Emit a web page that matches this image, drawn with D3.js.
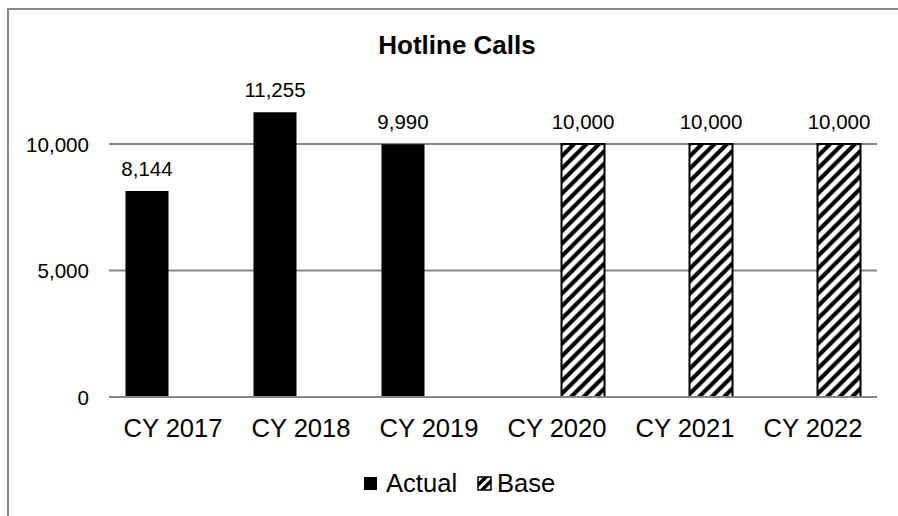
<!DOCTYPE html>
<html>
<head>
<meta charset="utf-8">
<script src="https://cdn.jsdelivr.net/npm/d3@7"></script>
<style>
  html, body { margin: 0; padding: 0; background: #fff; }
  svg { display: block; font-family: "Liberation Sans", Arial, sans-serif; }
</style>
</head>
<body>
<svg id="chart" width="898" height="516"></svg>
<script>
const title = "Hotline Calls";
const categories = ["CY 2017", "CY 2018", "CY 2019", "CY 2020", "CY 2021", "CY 2022"];
const seriesNames = ["Actual", "Base"];
const actualValues = [8144, 11255, 9990, null, null, null];
const baseValues = [null, null, null, 10000, 10000, 10000];
const yTicks = [0, 5000, 10000];
const yMax = 12000;

const svg = d3.select("#chart");
const plot = { left: 109, right: 877, top: 93.4, bottom: 397 };

svg.append("rect")
  .attr("x", 8).attr("y", 9)
  .attr("width", 1000).attr("height", 1000)
  .attr("fill", "#fff")
  .attr("stroke", "#898989").attr("stroke-width", 2);

const defs = svg.append("defs");
const pat = defs.append("pattern")
  .attr("id", "hatch")
  .attr("patternUnits", "userSpaceOnUse")
  .attr("width", 12.5).attr("height", 12.5);
pat.append("rect").attr("width", 12.5).attr("height", 12.5).attr("fill", "#fff");
pat.append("path")
  .attr("d", "M-3,3 L3,-3 M0,12.5 L12.5,0 M9.5,15.5 L15.5,9.5")
  .attr("stroke", "#000").attr("stroke-width", 4.2);

const patS = defs.append("pattern")
  .attr("id", "hatchSmall")
  .attr("patternUnits", "userSpaceOnUse")
  .attr("width", 9).attr("height", 9);
patS.append("rect").attr("width", 9).attr("height", 9).attr("fill", "#fff");
patS.append("path")
  .attr("d", "M-2,2 L2,-2 M0,9 L9,0 M7,11 L11,7")
  .attr("stroke", "#000").attr("stroke-width", 3.4);

const x0 = d3.scaleBand().domain(categories).range([plot.left, plot.right]).padding(0);
const x1 = d3.scaleBand().domain(seriesNames).range([0, x0.bandwidth()])
  .paddingInner(0.173).paddingOuter(0.317);
const y = d3.scaleLinear().domain([0, yMax]).range([plot.bottom, plot.top]);

svg.append("g").selectAll("line").data(yTicks).join("line")
  .attr("x1", plot.left).attr("x2", plot.right)
  .attr("y1", d => y(d)).attr("y2", d => y(d))
  .attr("stroke", "#868686").attr("stroke-width", 2);

const yAxis = svg.append("g")
  .attr("transform", `translate(${plot.left - 20},0)`)
  .call(d3.axisLeft(y).tickValues(yTicks).tickFormat(d3.format(",")).tickSize(0).tickPadding(0));
yAxis.select(".domain").remove();
yAxis.selectAll("text")
  .attr("font-size", 20.6)
  .attr("font-family", "Liberation Sans, Arial, sans-serif")
  .attr("fill", "#000")
  .attr("dy", "0.36em");

const xAxis = svg.append("g")
  .attr("transform", `translate(0,${plot.bottom})`)
  .call(d3.axisBottom(x0).tickSize(0).tickPadding(0));
xAxis.select(".domain").remove();
xAxis.selectAll("text")
  .attr("font-size", 25.6)
  .attr("font-family", "Liberation Sans, Arial, sans-serif")
  .attr("fill", "#000")
  .attr("dy", null)
  .attr("y", 40);

const rows = categories.map((c, i) => ({ cat: c, Actual: actualValues[i], Base: baseValues[i] }));

const groups = svg.append("g").selectAll("g").data(rows).join("g")
  .attr("transform", d => `translate(${x0(d.cat)},0)`);

groups.selectAll("rect")
  .data(d => seriesNames.filter(s => d[s] != null).map(s => ({ key: s, value: d[s] })))
  .join("rect")
  .attr("x", d => x1(d.key))
  .attr("width", x1.bandwidth())
  .attr("y", d => y(d.value))
  .attr("height", d => y(0) - y(d.value))
  .attr("fill", d => d.key === "Actual" ? "#000" : "url(#hatch)")
  .attr("stroke", "#000")
  .attr("stroke-width", d => d.key === "Actual" ? 0 : 2);

groups.selectAll("text.val")
  .data(d => seriesNames.filter(s => d[s] != null).map(s => ({ key: s, value: d[s] })))
  .join("text")
  .attr("class", "val")
  .attr("x", d => x1(d.key) + x1.bandwidth() / 2)
  .attr("y", d => y(d.value) - 15)
  .attr("text-anchor", "middle")
  .attr("font-size", 20.5)
  .attr("fill", "#000")
  .text(d => d3.format(",")(d.value));

svg.append("line")
  .attr("x1", plot.left).attr("x2", plot.right)
  .attr("y1", y(0)).attr("y2", y(0))
  .attr("stroke", "#868686").attr("stroke-width", 2);

svg.append("text")
  .attr("x", 457).attr("y", 54)
  .attr("text-anchor", "middle")
  .attr("font-size", 26).attr("font-weight", "bold")
  .attr("fill", "#000")
  .text(title);

const legend = svg.append("g");
const legItems = [
  { name: "Actual", sx: 364, tx: 386, fill: "#000", sw: 0 },
  { name: "Base", sx: 478, tx: 497, fill: "url(#hatchSmall)", sw: 1.5 }
];
legItems.forEach(it => {
  legend.append("rect")
    .attr("x", it.sx).attr("y", 477)
    .attr("width", 13).attr("height", 13)
    .attr("fill", it.fill)
    .attr("stroke", "#000").attr("stroke-width", it.sw);
  legend.append("text")
    .attr("x", it.tx).attr("y", 492)
    .attr("font-size", 25.6).attr("fill", "#000")
    .text(it.name);
});
</script>
</body>
</html>
